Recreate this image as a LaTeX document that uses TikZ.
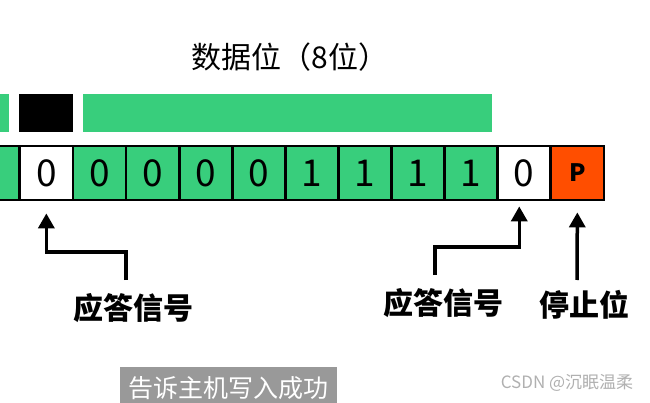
\documentclass[tikz,border=0pt]{standalone}
\usepackage{fontspec}
\setmainfont{Noto Sans CJK SC}
\usetikzlibrary{arrows.meta}
\definecolor{bitgreen}{RGB}{56,206,124}
\definecolor{stopred}{RGB}{255,78,0}
\definecolor{notegray}{RGB}{153,153,153}
\definecolor{markgray}{RGB}{176,176,176}

\begin{document}
\begin{tikzpicture}[x=1pt, y=-1pt,
	bit/.style={draw, line width=2.8pt, minimum width=53.1pt, minimum height=54pt, inner sep=0pt, font=\fontsize{37}{37}\selectfont},
	sig/.style={line width=3.5pt, -{Triangle[length=15pt,width=16pt]}},
	lbl/.style={font=\fontsize{30}{30}\selectfont\bfseries}]
	\useasboundingbox (0,0) rectangle (650,403);
	\clip (0,0) rectangle (650,403);
	
	\node[font=\fontsize{30}{30}\selectfont] (title) at (290,57) {数据位（8位）};
	
	\fill[bitgreen] (-10,94) rectangle (9,132);
	\fill[black] (19,94) rectangle (73,132);
	\fill[bitgreen] (83,94) rectangle (492,132);
	
	\foreach \i/\c/\t in {0/bitgreen/,1/white/0,2/bitgreen/0,3/bitgreen/0,4/bitgreen/0,5/bitgreen/0,6/bitgreen/1,7/bitgreen/1,8/bitgreen/1,9/bitgreen/1,10/white/0}
		\node[bit, fill=\c] (b\i) at ({19.8+(\i-0.5)*53.1},173) {\t};
	\node[bit, fill=stopred, font=\fontsize{24}{24}\selectfont\bfseries] (b11) at ({19.8+10.5*53.1},173) {P};
	
	\node[lbl] (ack1) at (133,308) {应答信号};
	\node[lbl] (ack2) at (443,303) {应答信号};
	\node[lbl] (stop) at (584,305) {停止位};
	
	\coordinate (a1) at (126,280);
	\coordinate (a2) at (435,275);
	\coordinate (a3) at (577,280);
	\draw[sig] (a1) -- (126,252) -| ([yshift=-12pt]b1.south);
	\draw[sig] (a2) -- (435,247) -| ([xshift=-5pt,yshift=-5pt]b10.south);
	\draw[sig] (a3) -- ([yshift=-11pt]b11.south);
	
	\node[fill=notegray, text=white, minimum width=217pt, minimum height=42pt, inner sep=0pt, font=\fontsize{25}{25}\selectfont] (note) at (228.5,388) {告诉主机写入成功};
	\node[text=markgray, font=\fontsize{17}{17}\selectfont] (mark) at (567,383) {CSDN @沉眠温柔};
\end{tikzpicture}
\end{document}
